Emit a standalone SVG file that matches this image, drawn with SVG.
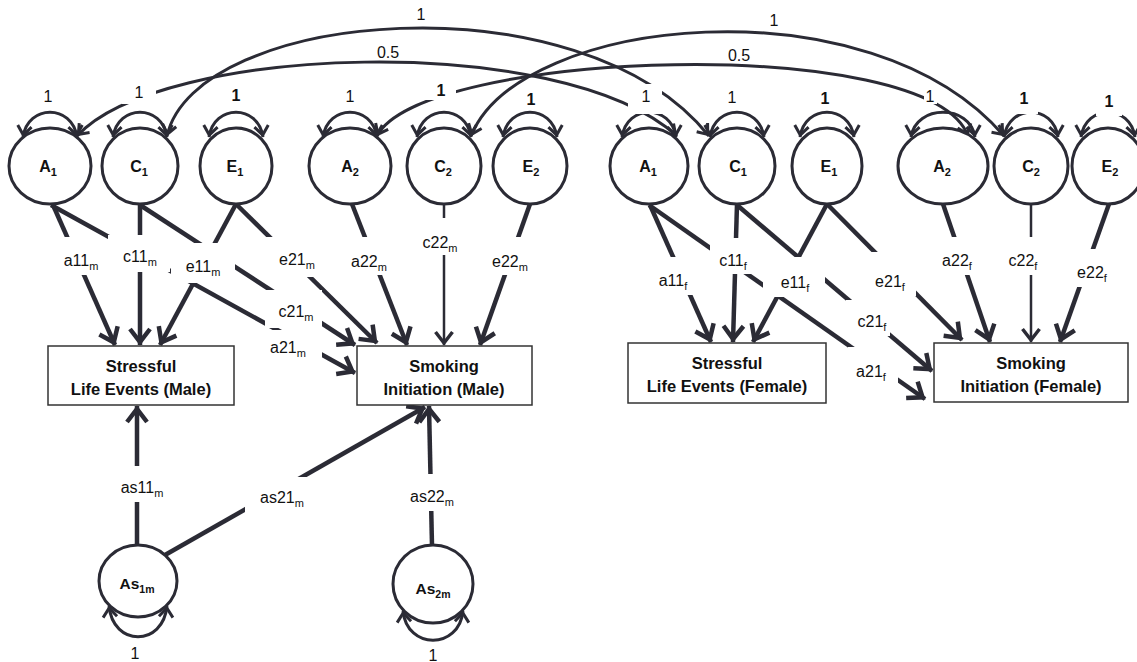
<svg xmlns="http://www.w3.org/2000/svg" width="1137" height="662" viewBox="0 0 1137 662">
<defs>
<style>
.ln{fill:none;stroke:#2b2b35;stroke-width:4.5;marker-end:url(#mb)}
.lt{fill:none;stroke:#2b2b35;stroke-width:2.5;marker-end:url(#mm)}
.cv{fill:none;stroke:#2b2b35;stroke-width:3;marker-start:url(#ms);marker-end:url(#ms)}
.lp{fill:none;stroke:#2b2b35;stroke-width:3;marker-start:url(#ms);marker-end:url(#ms)}
.nd{fill:#fff;stroke:#2b2b35;stroke-width:3}
.bx{fill:#fff;stroke:#333;stroke-width:1.5}
.wb{fill:#fff}
text{font-family:"Liberation Sans",Arial,sans-serif;fill:#111}
.el{font-size:16px;text-anchor:middle}
.nl{font-size:16px;font-weight:bold;text-anchor:middle}
.bt{font-size:16.5px;font-weight:bold;text-anchor:middle}
.one{font-size:16px;text-anchor:middle}
.oneb{font-size:16px;font-weight:bold;text-anchor:middle}
.sub{font-size:11px}
</style>
<marker id="mb" viewBox="-18 -14 24 28" markerWidth="24" markerHeight="28" refX="3" refY="0" orient="auto" markerUnits="userSpaceOnUse"><path d="M-13,-10 L0,0 L-13,10" fill="none" stroke="#2b2b35" stroke-width="4.5"/></marker>
<marker id="mm" viewBox="-16 -12 22 24" markerWidth="22" markerHeight="24" refX="2" refY="0" orient="auto" markerUnits="userSpaceOnUse"><path d="M-11,-8.5 L0,0 L-11,8.5" fill="none" stroke="#2b2b35" stroke-width="3.5"/></marker>
<marker id="ms" viewBox="-13 -10 18 20" markerWidth="18" markerHeight="20" refX="2" refY="0" orient="auto-start-reverse" markerUnits="userSpaceOnUse"><path d="M-9,-7 L0,0 L-9,7" fill="none" stroke="#2b2b35" stroke-width="3"/></marker>
</defs>
<rect width="1137" height="662" fill="#fff"/>

<g id="connectors">
<path class="ln" d="M53,205 L115,345"/>
<path class="ln" d="M51,205 L355,373"/>
<path class="ln" d="M140,204 L140,345"/>
<path class="ln" d="M140,205 L355,345"/>
<path class="ln" d="M236,204 L160,345"/>
<path class="ln" d="M237,205 L377,343"/>
<path class="ln" d="M352,204 L407,345"/>
<path class="lt" d="M444,204 L444,345"/>
<path class="ln" d="M530,204 L480,345"/>
<path class="ln" d="M137,545 L137,406"/>
<path class="ln" d="M165,555 L425,407"/>
<path class="ln" d="M432,546 L429,406"/>
<path class="ln" d="M650,205 L711,342"/>
<path class="ln" d="M649,205 L925,399"/>
<path class="ln" d="M737,204 L733,342"/>
<path class="ln" d="M737,205 L932,371"/>
<path class="ln" d="M827,204 L753,342"/>
<path class="ln" d="M828,205 L962,340"/>
<path class="ln" d="M943,204 L990,342"/>
<path class="lt" d="M1031,204 L1031,342"/>
<path class="ln" d="M1109,204 L1060,342"/>
<path class="cv" d="M167,136 C195,10 580,-25 709,136"/>
<path class="cv" d="M77,136 C160,45 560,30 677,136"/>
<path class="cv" d="M471,136 C520,15 870,-20 1004,136"/>
<path class="cv" d="M377,136 C420,50 930,32 968,136"/>
<path class="lp" d="M23,137 C28,104 72,104 77,137"/>
<path class="lp" d="M113,137 C118,104 162,104 167,137"/>
<path class="lp" d="M209,137 C214,104 258,104 263,137"/>
<path class="lp" d="M323,137 C328,104 372,104 377,137"/>
<path class="lp" d="M417,137 C422,104 466,104 471,137"/>
<path class="lp" d="M503,137 C508,104 552,104 557,137"/>
<path class="lp" d="M622,137 C627,104 671,104 676,137"/>
<path class="lp" d="M710,137 C715,104 759,104 764,137"/>
<path class="lp" d="M800,137 C805,104 849,104 854,137"/>
<path class="lp" d="M911,137 C916,104 970,104 975,137"/>
<path class="lp" d="M1004,137 C1009,104 1053,104 1058,137"/>
<path class="lp" d="M1081,137 C1086,104 1130,104 1135,137"/>
<path class="lp" d="M109,606 C113,647 163,647 167,606"/>
<path class="lp" d="M403,611 C407,650 459,650 463,611"/>
</g>

<g id="labels">
<rect class="wb" x="60" y="237" width="42" height="38"/>
<text class="el" x="81" y="266">a11<tspan class="sub" dy="4">m</tspan></text>
<rect class="wb" x="108" y="235" width="62" height="37"/>
<text class="el" x="140" y="262">c11<tspan class="sub" dy="4">m</tspan></text>
<rect class="wb" x="171" y="243" width="64" height="40"/>
<text class="el" x="203" y="272">e11<tspan class="sub" dy="4">m</tspan></text>
<rect class="wb" x="262" y="237" width="58" height="40"/>
<text class="el" x="297" y="265">e21<tspan class="sub" dy="4">m</tspan></text>
<rect class="wb" x="265" y="290" width="57" height="38"/>
<text class="el" x="296" y="317">c21<tspan class="sub" dy="4">m</tspan></text>
<rect class="wb" x="262" y="330" width="60" height="34"/>
<text class="el" x="288" y="353">a21<tspan class="sub" dy="4">m</tspan></text>
<rect class="wb" x="346" y="237" width="46" height="38"/>
<text class="el" x="369" y="267">a22<tspan class="sub" dy="4">m</tspan></text>
<rect class="wb" x="419" y="218" width="44" height="37"/>
<text class="el" x="440" y="248">c22<tspan class="sub" dy="4">m</tspan></text>
<rect class="wb" x="488" y="237" width="46" height="38"/>
<text class="el" x="510" y="267">e22<tspan class="sub" dy="4">m</tspan></text>

<rect class="wb" x="653" y="257" width="40" height="38"/>
<text class="el" x="673" y="286">a11<tspan class="sub" dy="4">f</tspan></text>
<rect class="wb" x="710" y="238" width="42" height="36"/>
<text class="el" x="733" y="266">c11<tspan class="sub" dy="4">f</tspan></text>
<rect class="wb" x="763" y="257" width="62" height="40"/>
<text class="el" x="795" y="288">e11<tspan class="sub" dy="4">f</tspan></text>
<rect class="wb" x="864" y="252" width="52" height="44"/>
<text class="el" x="890" y="287">e21<tspan class="sub" dy="4">f</tspan></text>
<rect class="wb" x="846" y="300" width="44" height="36"/>
<text class="el" x="872" y="327">c21<tspan class="sub" dy="4">f</tspan></text>
<rect class="wb" x="848" y="347" width="50" height="36"/>
<text class="el" x="871" y="377">a21<tspan class="sub" dy="4">f</tspan></text>
<rect class="wb" x="936" y="237" width="42" height="38"/>
<text class="el" x="957" y="266">a22<tspan class="sub" dy="4">f</tspan></text>
<rect class="wb" x="1002" y="237" width="43" height="38"/>
<text class="el" x="1023" y="266">c22<tspan class="sub" dy="4">f</tspan></text>
<rect class="wb" x="1071" y="249" width="43" height="38"/>
<text class="el" x="1092" y="278">e22<tspan class="sub" dy="4">f</tspan></text>

<rect class="wb" x="115" y="466" width="54" height="36"/>
<text class="el" x="142" y="493">as11<tspan class="sub" dy="4">m</tspan></text>
<rect class="wb" x="245" y="477" width="67" height="35"/>
<text class="el" x="282" y="503">as21<tspan class="sub" dy="4">m</tspan></text>
<rect class="wb" x="407" y="474" width="52" height="37"/>
<text class="el" x="432" y="502">as22<tspan class="sub" dy="4">m</tspan></text>

<text class="one" x="48" y="102">1</text>
<rect class="wb" x="122" y="82" width="34" height="22"/>
<text class="one" x="139" y="98">1</text>
<text class="oneb" x="236" y="101">1</text>
<text class="one" x="350" y="102">1</text>
<rect class="wb" x="425" y="78" width="31" height="22"/>
<text class="oneb" x="441" y="96">1</text>
<text class="oneb" x="531" y="105">1</text>
<rect class="wb" x="628" y="84" width="34" height="30"/>
<text class="one" x="646" y="102">1</text>
<text class="one" x="732" y="103">1</text>
<text class="oneb" x="825" y="104">1</text>
<rect class="wb" x="924" y="88" width="13" height="16"/>
<text class="one" x="930" y="102">1</text>
<rect class="wb" x="1010" y="88" width="28" height="26"/>
<text class="oneb" x="1024" y="104">1</text>
<rect class="wb" x="1096" y="90" width="26" height="26"/>
<text class="oneb" x="1109" y="107">1</text>
<text class="one" x="421" y="20">1</text>
<text class="one" x="388" y="58">0.5</text>
<text class="one" x="774" y="26">1</text>
<text class="one" x="739" y="61">0.5</text>
<text class="one" x="135" y="659">1</text>
<text class="one" x="433" y="661">1</text>
</g>

<g id="A1m"><ellipse class="nd" cx="50" cy="166" rx="41" ry="38"/><text class="nl" x="48" y="172">A<tspan class="sub" dy="4">1</tspan></text></g>
<g id="C1m"><ellipse class="nd" cx="140" cy="166" rx="38" ry="38"/><text class="nl" x="139" y="172">C<tspan class="sub" dy="4">1</tspan></text></g>
<g id="E1m"><ellipse class="nd" cx="236" cy="166" rx="36" ry="38"/><text class="nl" x="235" y="172">E<tspan class="sub" dy="4">1</tspan></text></g>
<g id="A2m"><ellipse class="nd" cx="350" cy="166" rx="41" ry="38"/><text class="nl" x="350" y="172">A<tspan class="sub" dy="4">2</tspan></text></g>
<g id="C2m"><ellipse class="nd" cx="444" cy="166" rx="37" ry="38"/><text class="nl" x="443" y="172">C<tspan class="sub" dy="4">2</tspan></text></g>
<g id="E2m"><ellipse class="nd" cx="530" cy="166" rx="37" ry="38"/><text class="nl" x="531" y="172">E<tspan class="sub" dy="4">2</tspan></text></g>
<g id="A1f"><ellipse class="nd" cx="649" cy="166" rx="39" ry="38"/><text class="nl" x="648" y="172">A<tspan class="sub" dy="4">1</tspan></text></g>
<g id="C1f"><ellipse class="nd" cx="737" cy="166" rx="38" ry="38"/><text class="nl" x="738" y="172">C<tspan class="sub" dy="4">1</tspan></text></g>
<g id="E1f"><ellipse class="nd" cx="827" cy="166" rx="35" ry="38"/><text class="nl" x="829" y="172">E<tspan class="sub" dy="4">1</tspan></text></g>
<g id="A2f"><ellipse class="nd" cx="943" cy="166" rx="45" ry="38"/><text class="nl" x="942" y="172">A<tspan class="sub" dy="4">2</tspan></text></g>
<g id="C2f"><ellipse class="nd" cx="1031" cy="166" rx="37" ry="38"/><text class="nl" x="1031" y="172">C<tspan class="sub" dy="4">2</tspan></text></g>
<g id="E2f"><ellipse class="nd" cx="1108" cy="166" rx="36" ry="38"/><text class="nl" x="1110" y="172">E<tspan class="sub" dy="4">2</tspan></text></g>

<g id="SLEm"><rect class="bx" x="48" y="346" width="186" height="59"/><text class="bt" x="141" y="372">Stressful</text><text class="bt" x="141" y="395">Life Events (Male)</text></g>
<g id="SIm"><rect class="bx" x="357" y="346" width="175" height="59"/><text class="bt" x="444" y="372">Smoking</text><text class="bt" x="444" y="395">Initiation (Male)</text></g>
<g id="SLEf"><rect class="bx" x="628" y="343" width="198" height="60"/><text class="bt" x="727" y="369">Stressful</text><text class="bt" x="727" y="392">Life Events (Female)</text></g>
<g id="SIf"><rect class="bx" x="934" y="343" width="194" height="59"/><text class="bt" x="1031" y="369">Smoking</text><text class="bt" x="1031" y="392">Initiation (Female)</text></g>

<g id="As1m"><ellipse class="nd" cx="138" cy="581" rx="39" ry="36"/><text class="nl" x="137" y="589" style="font-size:15.5px">As<tspan class="sub" dy="4" style="font-size:10.5px">1m</tspan></text></g>
<g id="As2m"><ellipse class="nd" cx="433" cy="584" rx="40" ry="39"/><text class="nl" x="433" y="594" style="font-size:15.5px">As<tspan class="sub" dy="4" style="font-size:10.5px">2m</tspan></text></g>
</svg>
